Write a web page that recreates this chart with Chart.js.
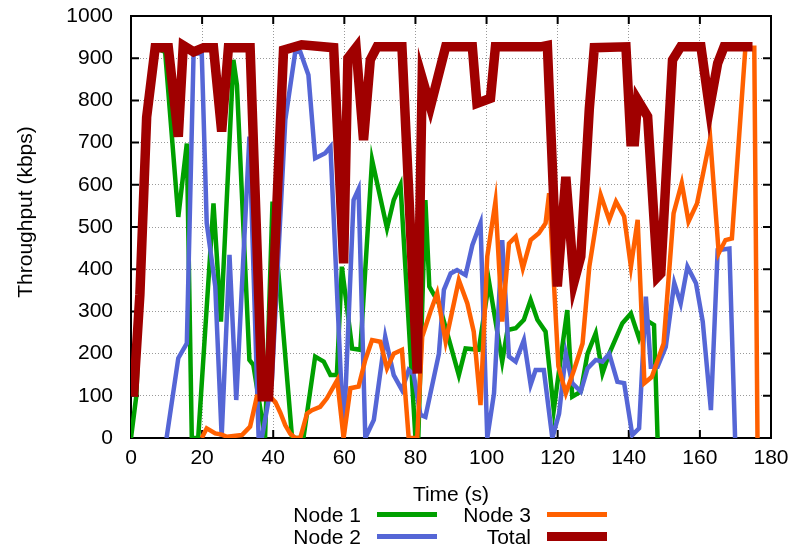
<!DOCTYPE html>
<html>
<head>
<meta charset="utf-8">
<script src="https://cdn.jsdelivr.net/npm/chart.js@4.4.1/dist/chart.umd.min.js"></script>
<style>
  body { margin: 0; background: #fff; }
  #wrap { position: relative; width: 796px; height: 549px; font-family: "Liberation Sans", Arial, sans-serif; color: #000; }
  #chart { position: absolute; left: 0; top: 0; }
  .ytitle { position: absolute; left: -125px; top: 200px; width: 300px; height: 24px; line-height: 24px;
            text-align: center; font-size: 21px; transform: rotate(-90deg); }
  .lg-text { position: absolute; width: 120px; height: 22px; line-height: 22px; text-align: right; font-size: 21px; }
  .lg-line { position: absolute; width: 60px; }
</style>
</head>
<body>
<div id="wrap">
  <canvas id="chart" width="796" height="549"></canvas>
  <div class="ytitle">Throughput (kbps)</div>
  <div id="legend"></div>
</div>
<script>
// Tiempos (s) y throughput (kbps) de cada serie
const node1Time = [0, 1.5, 2.6, 4.4, 6.8, 9.6, 13.3, 15.7, 17.1, 18.9, 23.2, 25.3, 28.8, 29.8, 33.3, 34.4, 37.7, 39.8, 45.3, 48.5,
    51.8, 54.2, 56.1, 57.9, 59.3, 62.2, 64.5, 67.8, 72.0, 73.9, 75.8, 80.0, 80.8, 82.8, 83.9, 86.6, 92.2, 94.1, 97.8, 100.7,
    104.4, 105.9, 108.2, 110.5, 112.4, 114.3, 116.6, 118.9, 122.7, 124.1, 126.5, 128.4, 130.7, 132.6, 134.5, 138.2, 140.6, 142.9, 144.8, 147.1, 148.1];
const node1Kbps = [0, 100, 340, 760, 925, 915, 524, 698, 0, 0, 556, 276, 896, 836, 185, 173, 0, 560, 0, 0,
    193, 181, 149, 149, 406, 212, 209, 659, 497, 564, 600, 0, 0, 564, 359, 319, 149, 212, 209, 370,
    181, 256, 260, 280, 327, 280, 252, 66, 303, 98, 110, 200, 248, 153, 200, 272, 295, 236, 280, 268, 0];

const node2Time = [10.0, 13.3, 15.7, 17.6, 19.9, 21.3, 23.7, 25.5, 27.7, 29.6, 33.3, 35.9, 36.8, 39.6, 43.4, 46.2, 47.6, 49.9, 51.8, 54.6,
    56.1, 59.8, 62.6, 64.0, 65.9, 68.3, 71.5, 73.9, 76.2, 78.1, 79.5, 81.4, 82.8, 86.6, 88.0, 89.9, 91.7, 94.1, 96.0, 98.3,
    100.2, 102.1, 104.4, 106.3, 108.2, 110.5, 112.4, 113.8, 116.1, 118.5, 120.4, 122.3, 124.1, 126.5, 128.4, 130.7, 132.6, 134.5, 136.8, 138.7,
    141.0, 142.9, 144.8, 146.2, 148.1, 150.4, 152.8, 154.6, 156.5, 158.9, 160.8, 163.1, 165.0, 168.3, 169.9];
const node2Kbps = [0, 189, 224, 911, 911, 509, 359, 3, 434, 90, 714, 0, 0, 133, 754, 915, 915, 860, 663, 675,
    690, 0, 564, 590, 0, 43, 240, 149, 114, 161, 150, 55, 50, 200, 351, 390, 398, 386, 457, 509,
    0, 106, 469, 193, 181, 232, 126, 161, 161, 0, 58, 200, 130, 110, 165, 185, 181, 200, 133, 130,
    7, 23, 335, 169, 169, 216, 367, 319, 406, 367, 276, 66, 445, 449, 0];

const node3Time = [19.9, 21.3, 23.7, 25.5, 27.0, 31.2, 33.5, 35.4, 39.2, 40.6, 42.0, 43.4, 44.8, 46.2, 47.6, 49.5, 50.9, 53.2, 55.1, 58.0,
    59.8, 61.7, 64.0, 65.9, 67.8, 70.1, 72.0, 73.9, 76.2, 78.1, 80.5, 81.9, 84.2, 86.1, 88.5, 92.2, 94.6, 96.4, 98.3, 100.2,
    102.5, 104.4, 106.3, 108.2, 110.2, 112.4, 114.7, 116.6, 117.6, 120.2, 122.3, 124.6, 127.0, 128.9, 132.1, 134.5, 136.4, 138.7, 140.6, 142.5,
    144.4, 146.5, 149.8, 152.6, 154.9, 156.8, 159.2, 162.9, 165.3, 167.2, 169.0, 172.8, 175.3, 176.2];
const node3Kbps = [0, 23, 11, 8, 3, 7, 27, 98, 97, 85, 60, 30, 10, 0, 0, 58, 66, 74, 94, 137,
    0, 118, 122, 185, 232, 228, 165, 200, 209, 0, 0, 240, 299, 343, 228, 374, 319, 252, 78, 430,
    560, 276, 461, 477, 402, 469, 485, 509, 580, 170, 106, 161, 224, 406, 576, 517, 560, 525, 406, 517,
    130, 145, 224, 532, 604, 513, 556, 710, 438, 469, 473, 925, 925, 0];

const totalTime = [0.7, 2.5, 4.4, 6.8, 10.5, 13.3, 14.7, 17.6, 20.4, 23.2, 25.5, 27.4, 33.5, 36.9, 38.7, 42.9, 48.0, 57.0, 59.8, 61.0,
    63.3, 65.4, 67.3, 69.2, 76.2, 80.5, 81.9, 84.2, 88.5, 96.0, 97.3, 101.1, 102.5, 115.2, 117.1, 119.9, 122.3, 124.6, 126.5, 128.9,
    130.3, 139.2, 140.6, 141.6, 142.5, 145.3, 148.1, 149.0, 152.3, 154.6, 160.3, 162.7, 165.0, 166.8, 174.8];
const totalKbps = [98, 340, 760, 925, 925, 714, 930, 915, 925, 925, 726, 925, 925, 98, 98, 919, 932, 925, 414, 900,
    925, 706, 896, 927, 927, 153, 852, 785, 927, 927, 793, 805, 927, 927, 930, 359, 619, 370, 430, 780,
    925, 927, 702, 702, 801, 762, 382, 390, 896, 927, 927, 781, 888, 927, 927];

const seriesNames = ["Node 1", "Node 2", "Node 3", "Total"];
const seriesColors = ["#00a000", "#5566d6", "#ff6000", "#a00000"];
const xTicks = [0, 180, 20];   // min, max, paso
const yTicks = [0, 1000, 100];

const fuente = '"Liberation Sans", Arial, sans-serif';

function puntos(t, v) {
    return t.map((x, i) => ({ x: x, y: v[i] }));
}

const series = [
    puntos(node1Time, node1Kbps),
    puntos(node2Time, node2Kbps),
    puntos(node3Time, node3Kbps),
    puntos(totalTime, totalKbps)
];

const anchos = [4.5, 4.5, 4.5, 9.5];

// Marco negro y ticks hacia dentro, estilo gnuplot
const marco = {
    id: 'marco',
    beforeDatasetsDraw(chart) {
        const { ctx, chartArea: a, scales } = chart;
        ctx.save();
        ctx.strokeStyle = '#000';
        ctx.lineWidth = 2;
        ctx.strokeRect(a.left, a.top, a.right - a.left, a.bottom - a.top);
        const largo = 8;
        ctx.beginPath();
        scales.x.ticks.forEach(t => {
            const px = scales.x.getPixelForValue(t.value);
            ctx.moveTo(px, a.bottom); ctx.lineTo(px, a.bottom - largo);
            ctx.moveTo(px, a.top); ctx.lineTo(px, a.top + largo);
        });
        scales.y.ticks.forEach(t => {
            const py = scales.y.getPixelForValue(t.value);
            ctx.moveTo(a.left, py); ctx.lineTo(a.left + largo, py);
            ctx.moveTo(a.right, py); ctx.lineTo(a.right - largo, py);
        });
        ctx.stroke();
        ctx.restore();
    }
};

const ctx = document.getElementById('chart').getContext('2d');
const grafico = new Chart(ctx, {
    type: 'line',
    data: {
        datasets: series.map((d, i) => ({
            label: seriesNames[i],
            data: d,
            borderColor: seriesColors[i],
            backgroundColor: seriesColors[i],
            borderWidth: anchos[i],
            pointRadius: 0,
            tension: 0,
            fill: false,
            order: 3 - i
        }))
    },
    options: {
        responsive: false,
        animation: false,
        layout: { padding: { left: 0, right: 25, top: 16, bottom: 0 } },
        plugins: { legend: { display: false }, tooltip: { enabled: false } },
        scales: {
            x: {
                type: 'linear',
                min: xTicks[0], max: xTicks[1],
                ticks: { stepSize: xTicks[2], color: '#000', padding: 8, font: { family: fuente, size: 21 },
                         callback: v => String(v) },
                grid: { color: '#999', lineWidth: 1, drawTicks: false },
                border: { display: false, dash: [1, 2] },
                title: { display: true, text: 'Time (s)', color: '#000', font: { family: fuente, size: 21 }, padding: { top: 0, bottom: 41 } },
                afterFit: s => { s.height = 111; s.paddingLeft = 0; s.paddingRight = 0; }
            },
            y: {
                min: yTicks[0], max: yTicks[1],
                ticks: { stepSize: yTicks[2], color: '#000', padding: 18, font: { family: fuente, size: 21 },
                         callback: v => String(v) },
                grid: { color: '#999', lineWidth: 1, drawTicks: false },
                border: { display: false, dash: [1, 2] },
                afterFit: s => { s.width = 131; s.paddingTop = 0; s.paddingBottom = 0; }
            }
        }
    },
    plugins: [marco]
});

// Leyenda abajo, en dos columnas
const legend = document.getElementById('legend');
const posLeyenda = [
    { textRight: 361, lineX: 377, y: 514.5 },
    { textRight: 361, lineX: 377, y: 536.7 },
    { textRight: 531, lineX: 547, y: 514.5 },
    { textRight: 531, lineX: 547, y: 536.7 }
];
seriesNames.forEach((n, i) => {
    const p = posLeyenda[i];
    const t = document.createElement('div');
    t.className = 'lg-text';
    t.textContent = n;
    t.style.left = (p.textRight - 120) + 'px';
    t.style.top = (p.y - 11) + 'px';
    legend.appendChild(t);
    const l = document.createElement('div');
    l.className = 'lg-line';
    const h = i === 3 ? 9 : 5;
    l.style.height = h + 'px';
    l.style.background = seriesColors[i];
    l.style.left = p.lineX + 'px';
    l.style.top = (p.y - h / 2) + 'px';
    legend.appendChild(l);
});
</script>
</body>
</html>
